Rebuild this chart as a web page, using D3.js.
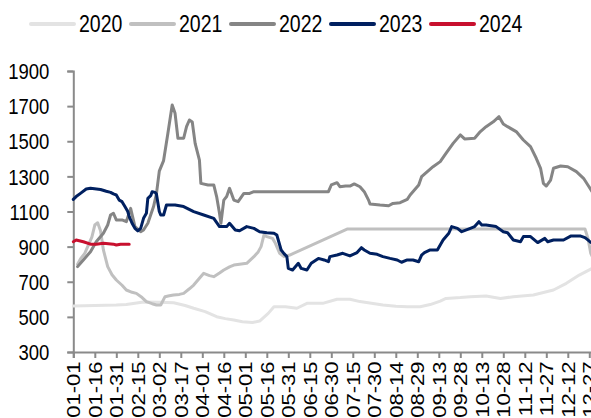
<!DOCTYPE html>
<html>
<head>
<meta charset="utf-8">
<script src="https://cdn.jsdelivr.net/npm/d3@7"></script>
<style>
  html, body { margin: 0; padding: 0; background: #fff; }
  svg { display: block; }
  text { font-family: "Liberation Sans", Arial, sans-serif; fill: #000; }
</style>
</head>
<body>
<svg id="chart" width="591" height="418"></svg>
<script>
// ---- data (x = days since 01-01, y = value) ----
const seriesNames = ["2020", "2021", "2022", "2023", "2024"];
const seriesColors = ["#e3e3e3", "#c0c0c0", "#858585", "#002060", "#c8102e"];

const xTickLabels = ["01-01","01-16","01-31","02-15","03-02","03-17","04-01","04-16","05-01","05-16",
  "05-31","06-15","06-30","07-15","07-30","08-14","08-29","09-13","09-28","10-13","10-28","11-12",
  "11-27","12-12","12-27"];
const yTicks = [300, 500, 700, 900, 1100, 1300, 1500, 1700, 1900];

const s2020 = [[0,562],[15,565],[30,568],[37,571],[49,585],[60,583],[70,580],[78,565],[84,549],[92,530],
  [100,501],[106,490],[112,482],[118,472],[125,468],[130,476],[136,520],[140,558],[148,558],[156,549],
  [163,577],[174,577],[184,600],[193,600],[200,587],[208,578],[216,568],[225,560],[233,558],[242,558],
  [249,570],[256,590],[260,605],[270,610],[277,615],[288,619],[298,605],[307,615],[321,625],[335,653],
  [344,691],[353,738],[363,780]];

const s2021 = [[3,800],[5,830],[8,862],[13,956],[15,1023],[17,1036],[19,990],[21,881],[24,786],[27,740],
  [30,710],[34,680],[37,653],[41,640],[44,634],[48,610],[51,587],[55,575],[58,568],[61,568],[64,615],
  [67,620],[70,625],[74,628],[77,634],[81,660],[84,681],[88,720],[91,748],[95,735],[98,729],[102,750],
  [105,767],[109,785],[112,795],[116,800],[121,805],[126,843],[129,870],[131,900],[133,966],[135,957],
  [139,947],[141,919],[144,862],[147,843],[151,852],[191,1000],[357,1000],[359,950],[361,862],[363,830]];

const s2022 = [[3,786],[7,824],[12,871],[16,928],[21,976],[24,1023],[26,1080],[28,1090],[30,1052],[34,1052],
  [37,1042],[40,1118],[43,1014],[47,985],[49,995],[52,1033],[56,1128],[58,1200],[60,1330],[63,1390],
  [66,1545],[69,1706],[71,1659],[73,1517],[77,1517],[79,1583],[81,1621],[83,1610],[85,1488],[88,1393],
  [89,1260],[94,1251],[98,1251],[100,1185],[102,1090],[103,1033],[105,1165],[107,1185],[109,1232],
  [112,1165],[115,1156],[119,1203],[123,1203],[126,1213],[178,1213],[180,1251],[184,1264],[186,1241],
  [190,1245],[193,1245],[196,1257],[200,1241],[203,1213],[206,1165],[207,1143],[214,1137],[220,1133],
  [223,1146],[228,1150],[233,1169],[235,1194],[238,1222],[241,1251],[243,1298],[247,1327],[251,1355],
  [256,1384],[260,1431],[265,1488],[270,1536],[273,1513],[280,1517],[284,1555],[288,1583],[293,1611],
  [297,1640],[300,1598],[303,1583],[309,1555],[314,1507],[319,1469],[323,1403],[326,1346],[328,1260],
  [330,1245],[333,1279],[335,1346],[340,1359],[345,1355],[351,1327],[356,1289],[359,1251],[363,1200]];

const s2023 = [[0,1169],[2,1185],[5,1203],[9,1228],[12,1232],[19,1225],[23,1215],[26,1209],[28,1200],
  [30,1194],[32,1165],[34,1156],[36,1128],[38,1100],[39,1071],[41,1033],[43,1004],[45,990],[47,1004],
  [49,1061],[51,1090],[52,1175],[54,1190],[55,1213],[57,1209],[58,1200],[59,1150],[60,1100],[61,1080],
  [63,1080],[65,1137],[71,1137],[77,1128],[84,1099],[91,1080],[98,1061],[102,1014],[107,1014],[109,1033],
  [113,995],[116,990],[121,1014],[126,1004],[130,985],[135,979],[140,976],[142,966],[145,881],[147,860],
  [149,843],[150,776],[153,767],[157,805],[159,776],[163,767],[166,805],[171,833],[175,824],[178,814],
  [179,843],[184,852],[188,862],[193,847],[198,866],[201,894],[203,881],[207,862],[212,856],[216,843],
  [221,833],[226,824],[229,811],[233,824],[237,824],[241,814],[243,852],[245,866],[249,881],[254,881],
  [258,938],[262,976],[264,1014],[268,1004],[271,985],[277,1004],[280,1014],[283,1042],[285,1023],
  [288,1023],[295,1014],[300,985],[303,979],[307,938],[312,928],[314,957],[319,957],[324,923],[329,947],
  [331,928],[335,938],[342,938],[347,960],[354,960],[357,951],[359,938],[361,924],[363,920]];

const s2024 = [[0,928],[2,938],[7,928],[12,914],[16,914],[21,919],[28,914],[30,909],[33,914],[39,914]];

const allSeries = [s2020, s2021, s2022, s2023, s2024];

// ---- layout ----
const svg = d3.select("#chart");
const x = d3.scaleLinear().domain([0, 364]).range([73.3, 73.3 + 364 * 1.4333]);
const y = d3.scaleLinear().domain([300, 1900]).range([352, 71]);
const axisColor = "#8a8a8a";
const fontSize = 18.5;
const vStretch = 1.19;

// y axis
const yAxis = svg.append("g").attr("transform", "translate(73.3,0)")
  .call(d3.axisLeft(y).tickValues(yTicks).tickSize(6).tickPadding(0).tickFormat(d3.format("d")));
yAxis.select(".domain").attr("stroke", axisColor).attr("stroke-width", 2);
yAxis.selectAll(".tick line").attr("stroke", axisColor).attr("stroke-width", 2);
yAxis.selectAll(".tick text").attr("font-size", fontSize).attr("fill", "#000")
  .attr("font-family", "Liberation Sans, Arial, sans-serif")
  .attr("x", 0).attr("dy", "0.35em")
  .attr("transform", `translate(-24,0) scale(1,${vStretch})`);

// x axis
const xTickVals = xTickLabels.map((_, i) => i * 15);
const xAxis = svg.append("g").attr("transform", "translate(0,352)")
  .call(d3.axisBottom(x).tickValues(xTickVals).tickSize(6).tickFormat((d, i) => xTickLabels[i]));
xAxis.select(".domain").attr("stroke", axisColor).attr("stroke-width", 2);
xAxis.selectAll(".tick line").attr("stroke", axisColor).attr("stroke-width", 2);
xAxis.selectAll(".tick text")
  .attr("font-size", fontSize).attr("fill", "#000")
  .attr("font-family", "Liberation Sans, Arial, sans-serif")
  .attr("text-anchor", "end")
  .attr("transform", `scale(1,${vStretch}) rotate(-90)`)
  .attr("x", -8).attr("y", 0).attr("dy", "0.35em");

// lines
const line = d3.line().x(d => x(d[0])).y(d => y(d[1]));
svg.append("g").selectAll("path").data(allSeries).join("path")
  .attr("d", line)
  .attr("fill", "none")
  .attr("stroke", (d, i) => seriesColors[i])
  .attr("stroke-width", 3)
  .attr("stroke-linejoin", "round")
  .attr("stroke-linecap", "round");

// legend
const legend = svg.append("g").attr("transform", "translate(31,24)");
const items = legend.selectAll("g").data(seriesNames).join("g")
  .attr("transform", (d, i) => `translate(${i * 100},0)`);
items.append("line").attr("x1", 0).attr("x2", 43).attr("y1", 0).attr("y2", 0)
  .attr("stroke", (d, i) => seriesColors[i]).attr("stroke-width", 4).attr("stroke-linecap", "round");
items.append("text").attr("x", 0).attr("y", 0).attr("dy", "0.35em")
  .attr("transform", `translate(48,0) scale(1,${vStretch})`)
  .attr("font-size", 19.5).text(d => d);
</script>
</body>
</html>
